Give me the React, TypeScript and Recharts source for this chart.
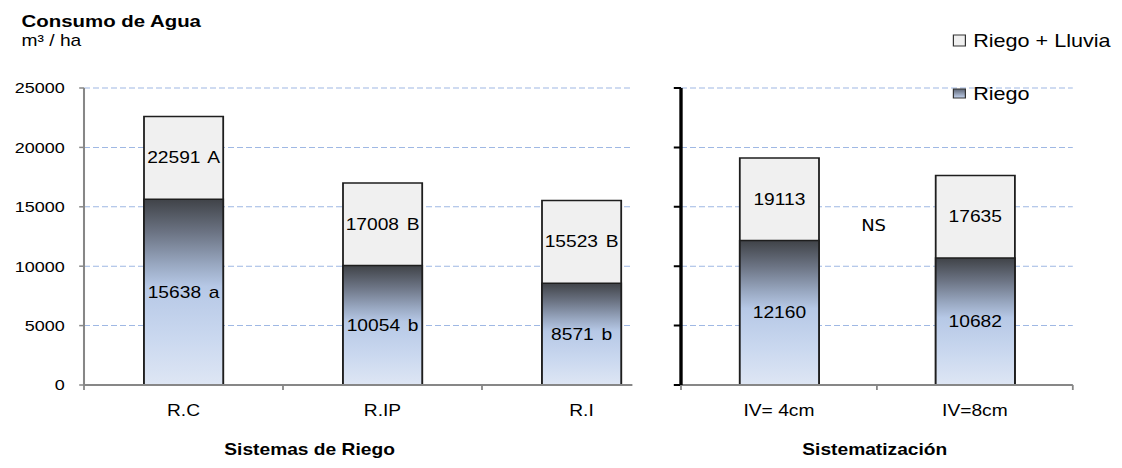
import React from 'react';
import {
  BarChart,
  Bar,
  XAxis,
  YAxis,
  CartesianGrid,
  LabelList,
} from 'recharts';

// Sistemas de riego (panel izquierdo)
const riegoCats = ['R.C', 'R.IP', 'R.I'];
const riegoTotal = [22591, 17008, 15523];
const riegoOnly = [15638, 10054, 8571];
const riegoTotalSig = ['A', 'B', 'B'];
const riegoOnlySig = ['a', 'b', 'b'];

// Sistematizacion (panel derecho)
const sistCats = ['IV= 4cm', 'IV=8cm'];
const sistTotal = [19113, 17635];
const sistOnly = [12160, 10682];

const yTicks = [0, 5000, 10000, 15000, 20000, 25000];

// el original esta estirado en horizontal
const SX = 1.2;
const W = 1122 / SX;
const FONT = '"Liberation Sans", Arial, sans-serif';
const GRID = '#9fb8e4';
const AXIS_GRAY = '#878787';

const leftData = riegoCats.map((c, i) => ({
  cat: c,
  total: riegoTotal[i],
  riego: riegoOnly[i],
  tSig: riegoTotalSig[i],
  rSig: riegoOnlySig[i],
}));

const rightData = sistCats.map((c, i) => ({
  cat: c,
  total: sistTotal[i],
  riego: sistOnly[i],
  tSig: '',
  rSig: '',
}));

const CatTick = (props: any) => {
  const { x, y, payload, index, band, count, color } = props;
  return (
    <g>
      <line x1={x - band / 2} x2={x - band / 2} y1={y} y2={y + 5} stroke={color} strokeWidth={1.5} />
      {index === count - 1 && (
        <line x1={x + band / 2} x2={x + band / 2} y1={y} y2={y + 5} stroke={color} strokeWidth={1.5} />
      )}
      <text x={x} y={y + 31} textAnchor="middle" fontSize={16} fontFamily={FONT} fill="#000">
        {payload.value}
      </text>
    </g>
  );
};

// el eje derecho no lleva numeros, solo marcas
const EmptyTick = () => <g />;

const makeLabel = (data: any[], part: 'total' | 'riego') => (props: any) => {
  const { x, y, width, height, index } = props;
  const d = data[index];
  let cy: number;
  if (part === 'total') {
    const upper = (height * (d.total - d.riego)) / d.total;
    cy = y + upper / 2;
  } else {
    cy = y + height / 2;
  }
  const num = part === 'total' ? d.total : d.riego;
  const sig = part === 'total' ? d.tSig : d.rSig;
  return (
    <text
      x={x + width / 2}
      y={cy}
      textAnchor="middle"
      dominantBaseline="central"
      fontSize={16}
      fontFamily={FONT}
      fill="#000"
    >
      {num}
      {sig && <tspan dx={2}>{' ' + sig}</tspan>}
    </text>
  );
};

const Gradient = ({ id }: { id: string }) => (
  <defs>
    <linearGradient id={id} x1="0" y1="0" x2="0" y2="1">
      <stop offset="0%" stopColor="#404348" />
      <stop offset="18%" stopColor="#6c7484" />
      <stop offset="35%" stopColor="#98a7c0" />
      <stop offset="47%" stopColor="#b6c8e6" />
      <stop offset="75%" stopColor="#cad8ef" />
      <stop offset="100%" stopColor="#dee6f4" />
    </linearGradient>
  </defs>
);

export default function App() {
  const leftPlotW = 497.5;
  const rightPlotW = 326.5;
  return (
    <div
      style={{
        position: 'absolute',
        left: 0,
        top: 0,
        width: W,
        height: 468,
        background: '#fff',
        transform: `scaleX(${SX})`,
        transformOrigin: '0 0',
        fontFamily: FONT,
        overflow: 'hidden',
      }}
    >
      <div style={{ position: 'absolute', left: 0, top: 0 }}>
        <BarChart
          width={580}
          height={468}
          data={leftData}
          margin={{ top: 88, right: 12.5, left: 0, bottom: 53 }}
          barSize={66}
        >
          <Gradient id="gradL" />
          <CartesianGrid vertical={false} stroke={GRID} strokeDasharray="5 2.5" />
          <XAxis
            xAxisId="a"
            dataKey="cat"
            height={30}
            tickLine={false}
            tickSize={0}
            tickMargin={0}
            axisLine={{ stroke: AXIS_GRAY, strokeWidth: 2 }}
            tick={<CatTick band={leftPlotW / 3} count={3} color={AXIS_GRAY} />}
          />
          <XAxis xAxisId="b" dataKey="cat" hide />
          <YAxis
            width={70}
            domain={[0, 25000]}
            ticks={yTicks}
            interval={0}
            tickSize={4}
            tickMargin={12}
            axisLine={{ stroke: AXIS_GRAY, strokeWidth: 1.7 }}
            tickLine={{ stroke: AXIS_GRAY, strokeWidth: 1.5 }}
            tick={{ fontSize: 15, fill: '#000', fontFamily: FONT }}
          />
          <Bar xAxisId="a" dataKey="total" fill="#f0f0f0" stroke="#1e1e1e" strokeWidth={1.5} isAnimationActive={false}>
            <LabelList dataKey="total" content={makeLabel(leftData, 'total')} />
          </Bar>
          <Bar xAxisId="b" dataKey="riego" fill="url(#gradL)" stroke="#1e1e1e" strokeWidth={1.5} isAnimationActive={false}>
            <LabelList dataKey="riego" content={makeLabel(leftData, 'riego')} />
          </Bar>
        </BarChart>
      </div>

      <div style={{ position: 'absolute', left: 527, top: 0, background: '#fff' }}>
        <BarChart
          width={408}
          height={468}
          data={rightData}
          margin={{ top: 88, right: 41, left: 0, bottom: 53 }}
          barSize={66}
        >
          <Gradient id="gradR" />
          <CartesianGrid vertical={false} stroke={GRID} strokeDasharray="5 2.5" />
          <XAxis
            xAxisId="a"
            dataKey="cat"
            height={30}
            tickLine={false}
            tickSize={0}
            tickMargin={0}
            axisLine={{ stroke: AXIS_GRAY, strokeWidth: 2 }}
            tick={<CatTick band={rightPlotW / 2} count={2} color={AXIS_GRAY} />}
          />
          <XAxis xAxisId="b" dataKey="cat" hide />
          <YAxis
            width={40.5}
            domain={[0, 25000]}
            ticks={yTicks}
            interval={0}
            tickSize={6}
            axisLine={{ stroke: '#000', strokeWidth: 2.8 }}
            tickLine={{ stroke: '#000', strokeWidth: 2 }}
            tick={EmptyTick}
          />
          <Bar xAxisId="a" dataKey="total" fill="#f0f0f0" stroke="#1e1e1e" strokeWidth={1.5} isAnimationActive={false}>
            <LabelList dataKey="total" content={makeLabel(rightData, 'total')} />
          </Bar>
          <Bar xAxisId="b" dataKey="riego" fill="url(#gradR)" stroke="#1e1e1e" strokeWidth={1.5} isAnimationActive={false}>
            <LabelList dataKey="riego" content={makeLabel(rightData, 'riego')} />
          </Bar>
        </BarChart>
      </div>

      {/* titulos y leyenda */}
      <svg width={W} height={468} style={{ position: 'absolute', left: 0, top: 0, pointerEvents: 'none' }}>
        <text x={18} y={27} fontSize={17} fontWeight="bold" fontFamily={FONT} fill="#000">
          Consumo de Agua
        </text>
        <text x={18} y={46} fontSize={16} fontFamily={FONT} fill="#000">
          m³ / ha
        </text>
        <text x={258} y={455} fontSize={16} fontWeight="bold" fontFamily={FONT} textAnchor="middle" fill="#000">
          Sistemas de Riego
        </text>
        <text x={729} y={455} fontSize={16} fontWeight="bold" fontFamily={FONT} textAnchor="middle" fill="#000">
          Sistematización
        </text>
        <text x={728} y={231} fontSize={15} fontFamily='"DejaVu Sans", sans-serif' textAnchor="middle" fill="#000">
          NS
        </text>
        <defs>
          <linearGradient id="gradLeg" x1="0" y1="0" x2="0" y2="1">
            <stop offset="0%" stopColor="#5c6474" />
            <stop offset="100%" stopColor="#c4d3ee" />
          </linearGradient>
        </defs>
        <rect x={794.5} y={35} width={10} height={11} fill="#f0f0f0" stroke="#333" strokeWidth={1} />
        <text x={811} y={47} fontSize={18} fontFamily={FONT} fill="#000">
          Riego + Lluvia
        </text>
        <rect x={794.5} y={89} width={10} height={9} fill="url(#gradLeg)" stroke="#333" strokeWidth={1} />
        <text x={811} y={100} fontSize={18} fontFamily={FONT} fill="#000">
          Riego
        </text>
      </svg>
    </div>
  );
}
